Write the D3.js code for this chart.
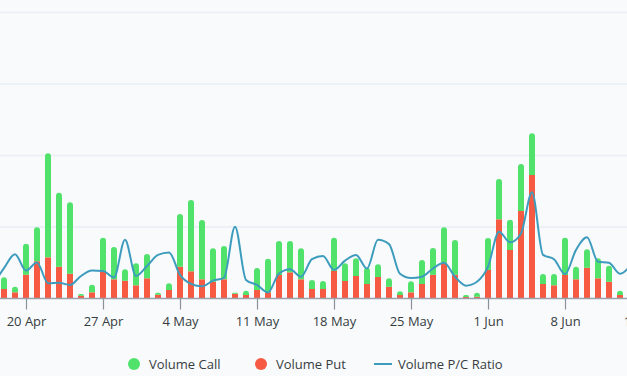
<!DOCTYPE html>
<html>
<head>
<meta charset="utf-8">
<script src="https://cdn.jsdelivr.net/npm/d3@7"></script>
<style>
  html, body { margin: 0; padding: 0; background: #f8fafc; }
  svg { display: block; font-family: "Open Sans", "Noto Sans", sans-serif; }
</style>
</head>
<body>
<svg id="chart" width="627" height="376"></svg>
<script>
"use strict";

// one entry per day, 17 Apr .. 14 Jun
const firstDay = "2020-04-17";
const lastDay = "2020-06-15"; // exclusive

const volumePut = [
  5000, 2660, 1730, 6660, 10410, 11520, 8900, 6940, 780, 1730,
  7410, 5370, 4980, 3690, 5650, 1060, 2380, 8900, 7610, 5370,
  4700, 5370, 1340, 980, 2380, 1730, 6570, 7330, 5370, 2660,
  2660, 7690, 4900, 6290, 4060, 6010, 3300, 980, 1730, 4060,
  6660, 10010, 6660, 420, 500, 7970, 22150, 13570, 24480, 34550,
  4060, 3690, 6570, 5370, 8620, 5650, 4700, 980, 900
];

const volumeCall = [
  8000, 3270, 1570, 8670, 9510, 29090, 20700, 19970, 480, 2130,
  9590, 9030, 3190, 6150, 6800, 560, 1870, 14740, 19940, 16590,
  9340, 9310, 280, 1200, 6150, 9400, 9510, 8760, 8670, 2520,
  2240, 9310, 4950, 4950, 4560, 3550, 2350, 1030, 3080, 6710,
  7470, 9900, 9710, 560, 1120, 8950, 11270, 8480, 13150, 11660,
  2800, 3160, 10430, 3520, 5150, 5590, 4480, 1200, 1000
];

const pcRatio = [
  0.38, 0.85, 1.24, 0.78, 1.01, 0.43, 0.44, 0.38, 0.63, 0.78,
  0.77, 0.59, 1.64, 0.63, 0.91, 1.22, 1.29, 0.66, 0.41, 0.34,
  0.50, 0.58, 2.01, 0.52, 0.38, 0.17, 0.70, 0.82, 0.61, 1.10,
  1.19, 0.80, 1.06, 1.22, 0.84, 1.64, 1.52, 0.69, 0.57, 0.61,
  0.84, 1.00, 0.61, 0.36, 0.47, 0.89, 1.87, 1.57, 1.82, 2.97,
  1.22, 1.10, 0.68, 1.36, 1.71, 1.03, 1.00, 0.69, 0.94
];

const legendItems = ["Volume Call", "Volume Put", "Volume P/C Ratio"];

const colorCall = "#51e26c";
const colorPut = "#f65a42";
const colorLine = "#3d9cbd";

const days = d3.utcDay.range(new Date(firstDay), new Date(lastDay));
const rows = days.map((d, i) => ({
  date: d, put: volumePut[i], call: volumeCall[i], ratio: pcRatio[i]
}));

const svg = d3.select("#chart");
const width = 627;

svg.append("rect").attr("width", width).attr("height", 376).attr("fill", "#f8fafc");

// plot is wider than the picture: the left axes and the right end are cut off
const x = d3.scaleUtc()
  .domain([new Date("2020-04-20"), new Date("2020-06-15")])
  .range([26, 26 + 56 * 11]);

const yVol = d3.scaleLinear().domain([0, 80000]).range([298.5, 12.5]);
const yRatio = d3.scaleLinear().domain([0, 8]).range([298.5, 12.5]);

// === Gridlines ===
svg.append("g")
  .selectAll("line")
  .data(yVol.ticks(4).filter(t => t > 0))
  .join("line")
  .attr("x1", 0).attr("x2", width)
  .attr("y1", d => yVol(d)).attr("y2", d => yVol(d))
  .attr("stroke", "#e9eef6")
  .attr("stroke-width", 1.5);

// === Bars ===
const barW = 6;

function roundedTop(x0, y0, w, h, r) {
  r = Math.min(r, h, w / 2);
  return `M${x0},${y0 + h}V${y0 + r}` +
    `Q${x0},${y0} ${x0 + r},${y0}H${x0 + w - r}` +
    `Q${x0 + w},${y0} ${x0 + w},${y0 + r}V${y0 + h}Z`;
}

svg.append("g")
  .selectAll("rect")
  .data(rows)
  .join("rect")
  .attr("x", d => x(d.date) - barW / 2)
  .attr("y", d => yVol(d.put))
  .attr("width", barW)
  .attr("height", d => yVol(0) - yVol(d.put))
  .attr("fill", colorPut);

svg.append("g")
  .selectAll("path")
  .data(rows)
  .join("path")
  .attr("d", d => roundedTop(x(d.date) - barW / 2, yVol(d.put + d.call), barW,
    yVol(d.put) - yVol(d.put + d.call), 3))
  .attr("fill", colorCall);

// === P/C ratio line ===
const line = d3.line()
  .x(d => x(d.date))
  .y(d => yRatio(d.ratio))
  .curve(d3.curveMonotoneX);

svg.append("path")
  .datum(rows)
  .attr("d", line)
  .attr("fill", "none")
  .attr("stroke", colorLine)
  .attr("stroke-width", 2);

// === X axis ===
const xAxis = d3.axisBottom(x)
  .ticks(d3.utcMonday.every(1))
  .tickFormat(d3.utcFormat("%-d %b"))
  .tickSize(11)
  .tickPadding(7)
  .tickSizeOuter(0);

const gx = svg.append("g")
  .attr("transform", "translate(0,298.5)")
  .call(xAxis);
gx.select(".domain").remove();
gx.insert("line", ":first-child")
  .attr("x1", 0).attr("x2", width)
  .attr("stroke", "#9aa3ad").attr("stroke-width", 1.5);
gx.selectAll(".tick line").attr("stroke", "#8a9199").attr("stroke-width", 1.2);
gx.selectAll(".tick text")
  .attr("fill", "#373d3f")
  .attr("font-size", 13)
  .attr("font-family", "'Open Sans', sans-serif");

// === Legend ===
const legend = svg.append("g").attr("transform", "translate(0,364)");
const legendX = [134, 261, 374];

legend.append("circle").attr("cx", legendX[0]).attr("cy", 0).attr("r", 6).attr("fill", colorCall);
legend.append("circle").attr("cx", legendX[1]).attr("cy", 0).attr("r", 6).attr("fill", colorPut);
legend.append("line")
  .attr("x1", legendX[2]).attr("x2", legendX[2] + 18)
  .attr("y1", 0).attr("y2", 0)
  .attr("stroke", colorLine).attr("stroke-width", 2);

legend.selectAll("text")
  .data(legendItems)
  .join("text")
  .attr("x", (d, i) => i < 2 ? legendX[i] + 15 : legendX[2] + 24)
  .attr("y", 4.5)
  .attr("fill", "#373d3f")
  .attr("font-size", 13)
  .text(d => d);
</script>
</body>
</html>
